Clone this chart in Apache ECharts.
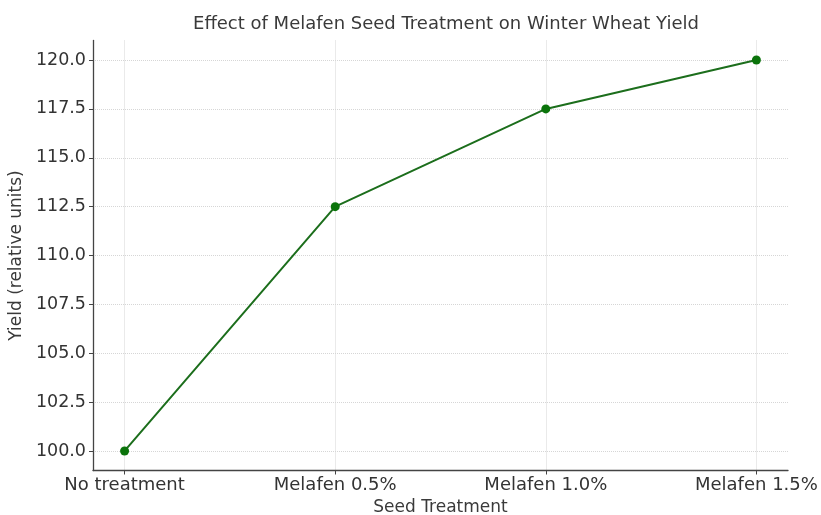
<!DOCTYPE html>
<html>
<head>
<meta charset="utf-8">
<script src="https://cdn.jsdelivr.net/npm/echarts@6/dist/echarts.min.js"></script>
<style>
  html, body { margin: 0; padding: 0; background: #fff; }
  #chart { width: 821px; height: 515px; }
</style>
</head>
<body>
<div id="chart"></div>
<script>
// categories and values
const treatments = ['No treatment', 'Melafen 0.5%', 'Melafen 1.0%', 'Melafen 1.5%'];
const yieldValues = [100, 112.5, 117.5, 120];
const yTicks = [100, 102.5, 105, 107.5, 110, 112.5, 115, 117.5, 120];

const xPositions = treatments.map((t, i) => i);
const font = 'DejaVu Sans';

const myChart = echarts.init(document.getElementById('chart'));
const option = {
  backgroundColor: '#ffffff',
  animation: false,
  title: {
    text: 'Effect of Melafen Seed Treatment on Winter Wheat Yield',
    left: 441,
    top: 10,
    textAlign: 'center',
    textStyle: { fontFamily: font, fontSize: 18, fontWeight: 'normal', color: '#3a3a3a' }
  },
  grid: { left: 93, right: 33, top: 40.5, bottom: 44.5, outerBoundsMode: 'none' },
  xAxis: {
    type: 'value',
    min: -0.15,
    max: 3.15,
    name: 'Seed Treatment',
    nameLocation: 'middle',
    nameGap: 27,
    nameTextStyle: { fontFamily: font, fontSize: 17, color: '#3a3a3a' },
    axisLine: { show: true, onZero: false, lineStyle: { color: '#444', width: 1.3 } },
    axisTick: { show: true, length: 4, customValues: xPositions, lineStyle: { color: '#444' } },
    axisLabel: {
      customValues: xPositions,
      formatter: v => treatments[Math.round(v)] || '',
      fontFamily: font, fontSize: 18, color: '#333', margin: 6
    },
    splitLine: { show: true, lineStyle: { color: '#d6d6d6', type: 'dotted', width: 1 } }
  },
  yAxis: {
    type: 'value',
    min: 99,
    max: 121,
    name: 'Yield (relative units)',
    nameLocation: 'middle',
    nameGap: 67,
    nameTextStyle: { fontFamily: font, fontSize: 17, color: '#3a3a3a' },
    axisLine: { show: true, onZero: false, lineStyle: { color: '#444', width: 1.3 } },
    axisTick: { show: true, length: 4, customValues: yTicks, lineStyle: { color: '#444' } },
    axisLabel: {
      customValues: yTicks,
      formatter: v => v.toFixed(1),
      fontFamily: font, fontSize: 17.5, color: '#333', margin: 7
    },
    splitLine: { show: true, lineStyle: { color: '#d6d6d6', type: 'dotted', width: 1 } }
  },
  series: [
    {
      type: 'line',
      data: xPositions.map((x, i) => [x, yieldValues[i]]),
      symbol: 'circle',
      symbolSize: 9,
      lineStyle: { color: '#1c6e1c', width: 2 },
      itemStyle: { color: '#0b740b' }
    }
  ]
};
myChart.setOption(option);
</script>
</body>
</html>
